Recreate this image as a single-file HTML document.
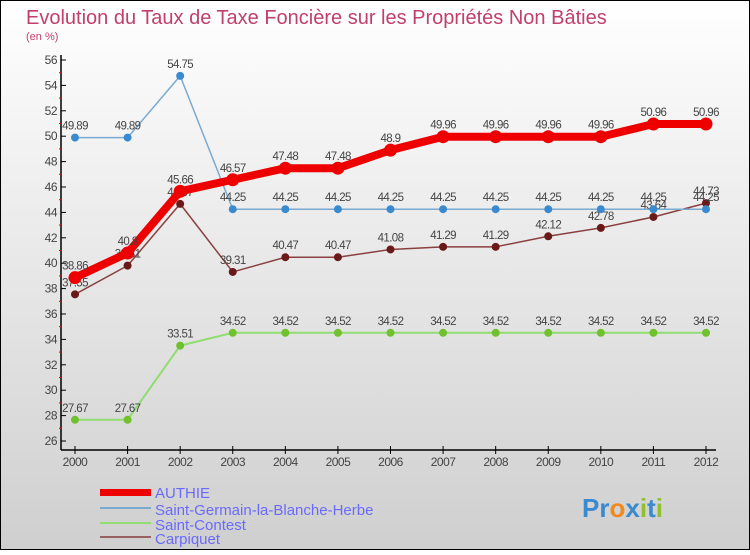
<!DOCTYPE html>
<html><head><meta charset="utf-8"><style>
html,body{margin:0;padding:0}
body{width:750px;height:550px;overflow:hidden;font-family:"Liberation Sans",sans-serif}
</style></head><body>
<svg width="750" height="550" xmlns="http://www.w3.org/2000/svg">
<defs><linearGradient id="bg" x1="0" y1="0" x2="0" y2="1"><stop offset="0" stop-color="#ffffff"/><stop offset="1" stop-color="#cfcfcf"/></linearGradient></defs>
<rect x="0.5" y="0.5" width="749" height="549" fill="url(#bg)" stroke="#000"/>
<text x="26" y="24" font-size="20" fill="#c0406a">Evolution du Taux de Taxe Foncière sur les Propriétés Non Bâties</text>
<text x="26" y="40" font-size="11" fill="#c0406a">(en %)</text>
<g id="axes"></g>
<g id="series"></g>
<g id="legend">
<rect x="100" y="489" width="51" height="7" fill="#e00"/>
<text x="155" y="498" font-size="15" fill="#6a6aff">AUTHIE</text>
<rect x="100" y="507" width="51" height="2" fill="#7aaad0"/>
<text x="155" y="515" font-size="15" fill="#6a6aff">Saint-Germain-la-Blanche-Herbe</text>
<rect x="100" y="522" width="51" height="2" fill="#90dd70"/>
<text x="155" y="530" font-size="15" fill="#6a6aff">Saint-Contest</text>
<rect x="100" y="536" width="51" height="2" fill="#986060"/>
<text x="155" y="544" font-size="15" fill="#6a6aff">Carpiquet</text>
</g>
<text x="582" y="517" font-size="26" font-weight="bold"><tspan fill="#3a8ad0">Pr</tspan><tspan fill="#f08a20">o</tspan><tspan fill="#3a8ad0">x</tspan><tspan fill="#90c030">i</tspan><tspan fill="#3a8ad0">t</tspan><tspan fill="#90c030">i</tspan></text>
</svg>
<script>
const years=[2000,2001,2002,2003,2004,2005,2006,2007,2008,2009,2010,2011,2012];
const yTicks=[26,28,30,32,34,36,38,40,42,44,46,48,50,52,54,56];
const authie=[38.86,40.8,45.66,46.57,47.48,47.48,48.9,49.96,49.96,49.96,49.96,50.96,50.96];
const stGermain=[49.89,49.89,54.75,44.25,44.25,44.25,44.25,44.25,44.25,44.25,44.25,44.25,44.25];
const stContest=[27.67,27.67,33.51,34.52,34.52,34.52,34.52,34.52,34.52,34.52,34.52,34.52,34.52];
const carpiquet=[37.55,39.81,44.67,39.31,40.47,40.47,41.08,41.29,41.29,42.12,42.78,43.64,44.73];
const NS="http://www.w3.org/2000/svg";
const X=i=>75+i*(706-75)/(years.length-1);
const Y=v=>441-(v-26)*(441-60)/30;
function mk(t,a,p){const e=document.createElementNS(NS,t);for(const k in a)e.setAttribute(k,a[k]);p.appendChild(e);return e;}
const ax=document.getElementById('axes');
let l=mk('line',{x1:61,y1:55,x2:61,y2:450,stroke:'#000','stroke-width':1.5},ax);


l=mk('line',{x1:61,y1:450,x2:716,y2:450,stroke:'#000','stroke-width':1.5},ax);


yTicks.forEach(v=>{
 mk('line',{x1:61,y1:Y(v),x2:66,y2:Y(v),stroke:'#000'},ax);
 if(v<56)mk('line',{x1:59,y1:Y(v+1),x2:62,y2:Y(v+1),stroke:'#e00'},ax);
 const t=mk('text',{x:57,y:Y(v)+4,'font-size':12,'text-anchor':'end',fill:'#444','letter-spacing':'-0.5'},ax);
 t.textContent=v;
 
 
});
years.forEach((yr,i)=>{
 mk('line',{x1:X(i),y1:446,x2:X(i),y2:454,stroke:'#000'},ax);
 const t=mk('text',{x:X(i),y:466,'font-size':12,'text-anchor':'middle',fill:'#444','letter-spacing':'-0.5'},ax);
 t.textContent=yr;
 
 
});
const sg=document.getElementById('series');
function draw(vals,name,col,w,r,fill){
 const g=mk('g',{},sg);
 
 
 const pl=mk('polyline',{points:vals.map((v,i)=>X(i)+','+Y(v)).join(' '),fill:'none',stroke:col,'stroke-width':w,'stroke-linejoin':'round'},g);
 
 
 vals.forEach((v,i)=>{
  const c=mk('circle',{cx:X(i),cy:Y(v),r:r,fill:fill},g);
  
  
  const t=mk('text',{x:X(i),y:Y(v)-8,'font-size':11.5,'text-anchor':'middle',fill:'#444','letter-spacing':'-0.6'},g);
  t.textContent=v;
  
  
 });
}
draw(stContest,'saint-contest','#90dd70',2,4,'#70c030');
draw(carpiquet,'carpiquet','#8a4040',1.5,4,'#6a1818');
draw(stGermain,'saint-germain','#7aaad0',1.5,4,'#3a8ad0');
draw(authie,'authie','#ee0000',8,6.5,'#ee0000');
</script>
</body></html>
